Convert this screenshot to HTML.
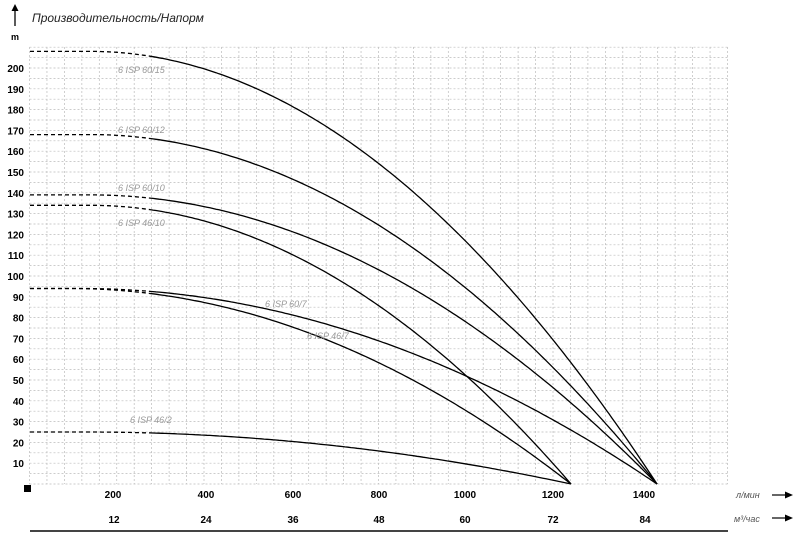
<!DOCTYPE html><html><head><meta charset="utf-8"><style>body{margin:0;background:#fff}svg{display:block;font-family:"Liberation Sans",sans-serif}</style></head><body>
<svg id="s" width="796" height="540" viewBox="0 0 796 540">
<g id="grid" stroke="#bbb" stroke-width="0.7" stroke-dasharray="2,2"></g>
<g id="curves" fill="none" stroke="#000" stroke-width="1.3"></g>
<g font-size="12" font-style="italic" fill="#222"><text x="32" y="22">Производительность/Напорм</text></g>
<line x1="15" y1="26" x2="15" y2="8" stroke="#000" stroke-width="1.3"/><polygon points="11.5,11 15,4 18.5,11" fill="#000"/>
<text x="11" y="40" font-size="9" font-weight="bold">m</text>
<g id="yl" font-size="10" font-weight="bold" text-anchor="end"></g>
<rect x="24" y="485" width="7" height="7" fill="#000"/>
<g font-size="10" font-weight="bold" text-anchor="middle">
<text x="113" y="498">200</text><text x="206" y="498">400</text><text x="293" y="498">600</text><text x="379" y="498">800</text><text x="465" y="498">1000</text><text x="553" y="498">1200</text><text x="644" y="498">1400</text>
<text x="114" y="523">12</text><text x="206" y="523">24</text><text x="293" y="523">36</text><text x="379" y="523">48</text><text x="465" y="523">60</text><text x="553" y="523">72</text><text x="645" y="523">84</text></g>
<g font-size="9" font-style="italic" fill="#555"><text x="736" y="498">л/мин</text><text x="734" y="522">м³/час</text></g>
<g stroke="#000" stroke-width="1.2"><line x1="772" y1="495" x2="788" y2="495"/><line x1="772" y1="518" x2="788" y2="518"/></g>
<polygon points="785,491.5 793,495 785,498.5" fill="#000"/><polygon points="785,514.5 793,518 785,521.5" fill="#000"/>
<line x1="30" y1="531" x2="728" y2="531" stroke="#444" stroke-width="2"/>
<g font-size="9" font-style="italic" fill="#999">
<text x="118" y="73">6 ISP 60/15</text><text x="118" y="133">6 ISP 60/12</text><text x="118" y="191">6 ISP 60/10</text><text x="118" y="226">6 ISP 46/10</text><text x="265" y="307">6 ISP 60/7</text><text x="307" y="339">6 ISP 46/7</text><text x="130" y="423">6 ISP 46/2</text></g>
</svg>
<script>
var ns="http://www.w3.org/2000/svg",g=document.getElementById('grid');
function ln(p,a){var e=document.createElementNS(ns,'line');for(var k in a)e.setAttribute(k,a[k]);p.appendChild(e);}
for(var x=29.5;x<=729;x+=17.45)ln(g,{x1:x,y1:47,x2:x,y2:484});
for(var y=484;y>=46;y-=10.4)ln(g,{x1:29.5,y1:y,x2:728,y2:y});
var yl=document.getElementById('yl');
for(var v=10;v<=200;v+=10){var t=document.createElementNS(ns,'text');t.setAttribute('x',24);t.setAttribute('y',484-v*2.08+4);t.textContent=v;yl.appendChild(t);}
var c=document.getElementById('curves');
[[208,657,90],[168,657,90],[139,657,90],[134,571,90],[94,657,80],[94,571,70],[25,571,85]].forEach(function(s){
 var H=s[0],xe=s[1],x0=s[2],d1='',d2='';
 for(var x=30;x<=xe;x+=3){var f=Math.max(0,(x-x0)/(xe-x0));var y=484-H*(1-f*f)*2.08;
  if(x<=150){d1+=(d1?'L':'M')+x+','+y.toFixed(1);} if(x>=150){d2+=(d2?'L':'M')+x+','+y.toFixed(1);} }
 d2+='L'+xe+',484';
 var p=document.createElementNS(ns,'path');p.setAttribute('d',d1);p.setAttribute('stroke-dasharray','4,3');c.appendChild(p);
 p=document.createElementNS(ns,'path');p.setAttribute('d',d2);c.appendChild(p);});
</script></body></html>
